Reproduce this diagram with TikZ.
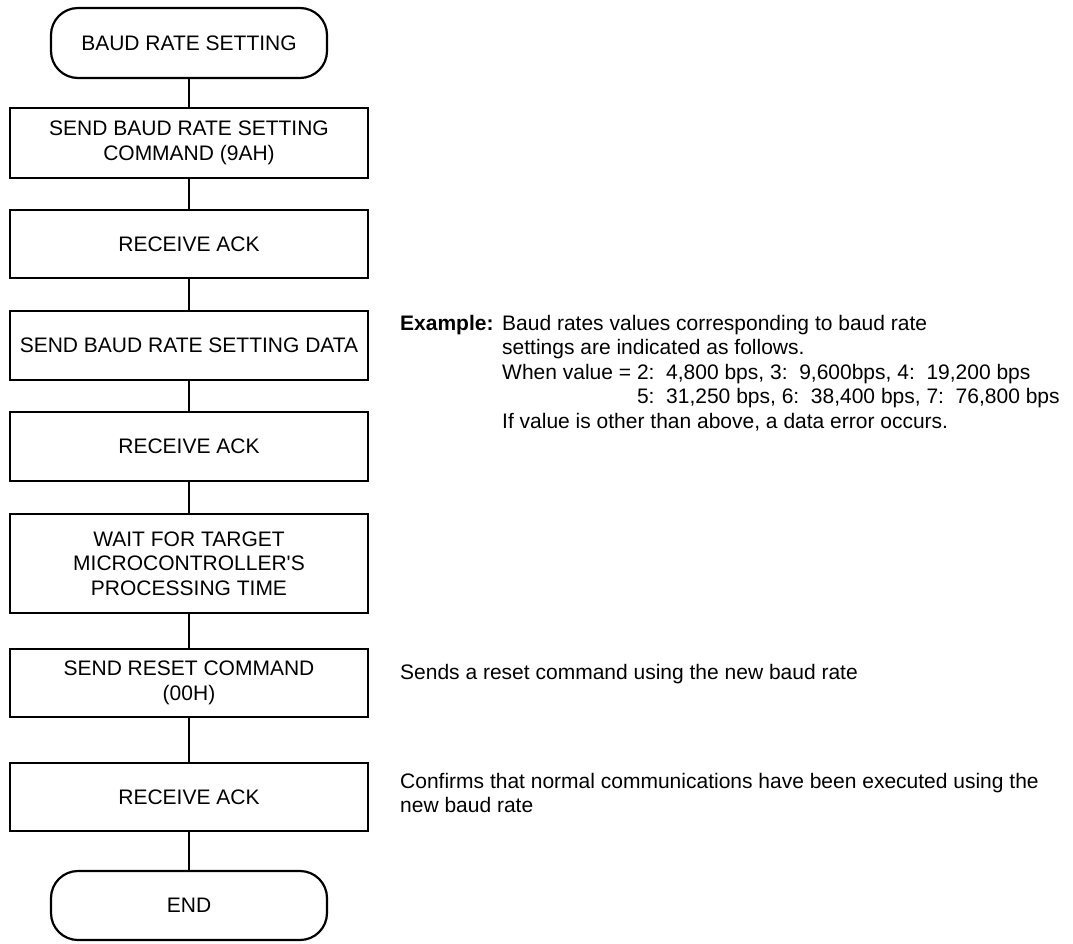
\documentclass[tikz,border=0pt]{standalone}
\usepackage{fontspec}
\setmainfont{Liberation Sans}
\begin{document}
\begin{tikzpicture}[x=1pt,y=-1pt,
  every node/.style={font=\fontsize{21}{24.5}\selectfont, inner sep=0pt},
  stepbox/.style={draw, line width=2.2pt, rectangle, minimum width=358pt, align=center},
  terminal/.style={draw, line width=2.2pt, rectangle, rounded corners=27pt, minimum width=276pt, minimum height=70pt, align=center},
  link/.style={line width=1.2pt},
  note/.style={anchor=base west}]
\useasboundingbox (0,0) rectangle (1073,943);
\fill[white] (0,0) rectangle (1073,943);

% flowchart column
\node[terminal] (start) at (189,43) {BAUD RATE SETTING};
\node[stepbox, minimum height=70pt] (cmd) at (189,143) {SEND BAUD RATE SETTING\\COMMAND (9AH)};
\node[stepbox, minimum height=68pt] (ack1) at (189,244) {RECEIVE ACK};
\node[stepbox, minimum height=69pt] (data) at (189,345.5) {SEND BAUD RATE SETTING DATA};
\node[stepbox, minimum height=69pt] (ack2) at (189,446.5) {RECEIVE ACK};
\node[stepbox, minimum height=99pt] (wait) at (189,563.5) {WAIT FOR TARGET\\MICROCONTROLLER\textquotesingle S\\PROCESSING TIME};
\node[stepbox, minimum height=68pt] (reset) at (189,683) {SEND RESET COMMAND\\(00H)};
\node[stepbox, minimum height=68pt] (ack3) at (189,797) {RECEIVE ACK};
\node[terminal, minimum height=69pt] (stop) at (189,905.5) {END};

\draw[link] (start) -- (cmd);
\draw[link] (cmd) -- (ack1);
\draw[link] (ack1) -- (data);
\draw[link] (data) -- (ack2);
\draw[link] (ack2) -- (wait);
\draw[link] (wait) -- (reset);
\draw[link] (reset) -- (ack3);
\draw[link] (ack3) -- (stop);

% side notes
\node[note] (exlabel) at (400,330) {\bfseries Example:};
\node[note] (ex1) at (502,330) {Baud rates values corresponding to baud rate};
\node[note] (ex2) at (502,354.5) {settings are indicated as follows.};
\node[note] (ex3) at (502,379) {When value = 2:\ \ 4,800 bps, 3:\ \ 9,600bps, 4:\ \ 19,200 bps};
\node[note] (ex4) at (502,403.5) {\phantom{When value = }5:\ \ 31,250 bps, 6:\ \ 38,400 bps, 7:\ \ 76,800 bps};
\node[note] (ex5) at (502,428) {If value is other than above, a data error occurs.};

\node[note] (resetnote) at (400,679) {Sends a reset command using the new baud rate};
\node[note] (acknote1) at (400,788) {Confirms that normal communications have been executed using the};
\node[note] (acknote2) at (400,812.5) {new baud rate};
\end{tikzpicture}
\end{document}
